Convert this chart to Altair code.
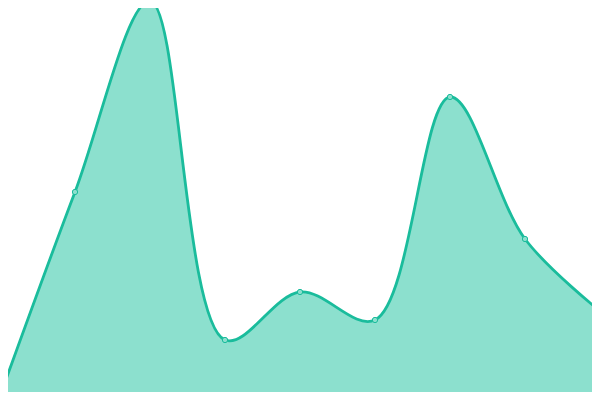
import altair as alt
import pandas as pd

idx = [0, 1, 2, 3, 4, 5, 6, 7, 8]
values = [4, 208, 399, 60, 108, 80, 303, 161, 89]

df = pd.DataFrame({"i": idx, "v": values})

x = alt.X("i:Q", axis=None, scale=alt.Scale(domain=[0, 8], nice=False, zero=False))
y = alt.Y("v:Q", axis=None, scale=alt.Scale(domain=[0, 400], nice=False))

interp = "catmull-rom"
base = alt.Chart(df)
area = base.mark_area(interpolate=interp, color="#8ce0ce", opacity=1).encode(x=x, y=y)
line = base.mark_line(interpolate=interp, color="#1abc9c", strokeWidth=2.8).encode(x=x, y=y)
pts = base.mark_point(filled=True, shape="circle", size=28, fill="#8ce0ce", stroke="#1abc9c",
                      strokeWidth=1, opacity=1).encode(x=x, y=y)

chart = (area + line + pts).properties(
    width=600, height=400,
    autosize=alt.AutoSizeParams(type="none"),
    padding={"left": -8, "top": -8, "right": -8, "bottom": -8},
).configure_view(stroke=None)

chart.save("out.html", embed_options={"renderer": "svg", "actions": False})
